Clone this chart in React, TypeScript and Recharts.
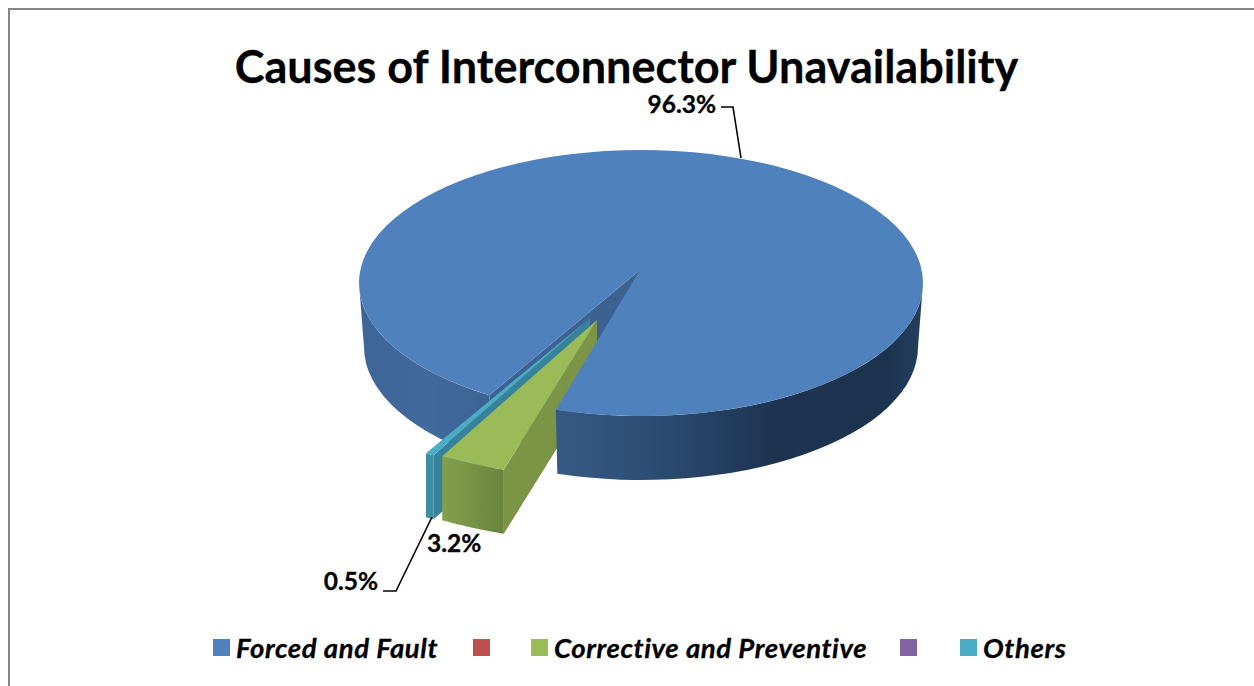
import React from "react";
import { PieChart, Pie, Legend } from "recharts";

const categories = ["Forced and Fault", " ", "Corrective and Preventive", "  ", "Others"];
const shares = [96.3, 0, 3.2, 0, 0.5];
const labels = ["96.3%", "", "3.2%", "", "0.5%"];
const colors = ["#4f81bd", "#c0504d", "#9bbb59", "#8064a2", "#4bacc6"];

const data = categories.map((name, i) => ({ name, value: shares[i], fill: colors[i] }));

// fake 3D settings
const TILT = 133 / 282;
const DEPTH = 64;
const BASE_SCALE = 277 / 282;

// how far each slice is pulled out of the pie (perspective makes apex and rim move differently)
const explode = [
  { ax: -1, ay: -13, rx: 0, ry: 0, scale: 1, trim: 1.6, depthScale: BASE_SCALE },
  { ax: 0, ay: 0, rx: 0, ry: 0, scale: 1, trim: 0, depthScale: 1 },
  { ax: -44, ay: 37, rx: -26, ry: 36, scale: 1.2, trim: 0, depthScale: 1 },
  { ax: 0, ay: 0, rx: 0, ry: 0, scale: 1, trim: 0, depthScale: 1 },
  { ax: -51, ay: 35, rx: -63.5, ry: 58, scale: 1, trim: 0, depthScale: 1 },
];
const cutColors = ["#3c6291", "#000", "#7b9446", "#000", "#38819a"];

const labelSpots = [
  { x: 716, y: 113, anchor: "end", line: "721,107 733,107 741,158" },
  null,
  { x: 427, y: 552, anchor: "start", line: "" },
  null,
  { x: 378, y: 590, anchor: "end", line: "383,591 396,591 432,517" },
];

const legendStarts = [213, 473, 531, 900, 960];

const rad = (a: number) => (a * Math.PI) / 180;

function geometry(props: any) {
  const i = props.index ?? categories.indexOf(props.payload?.name ?? props.name);
  const e = explode[i];
  const R = props.outerRadius * e.scale;
  const r = R * TILT;
  const cx = props.cx + e.rx;
  const cy = props.cy + e.ry;
  const top = (a: number) => [cx + R * Math.cos(rad(a)), cy - r * Math.sin(rad(a))];
  const low = (a: number) => [
    cx + R * e.depthScale * Math.cos(rad(a)),
    cy + DEPTH - r * Math.sin(rad(a)),
  ];
  return {
    i,
    e,
    R,
    r,
    top,
    low,
    apex: [props.cx + e.ax, props.cy + e.ay],
    start: props.startAngle,
    end: props.endAngle + e.trim,
  };
}

// wall between the top rim and the base rim, a1 < a2 (math angles)
function wallPath(g: any, a1: number, a2: number) {
  const p1 = g.top(a1);
  const p2 = g.top(a2);
  const q1 = g.low(a1);
  const q2 = g.low(a2);
  const R2 = g.R * g.e.depthScale;
  return `M${p1[0]},${p1[1]} A${g.R},${g.r} 0 0 0 ${p2[0]},${p2[1]} L${q2[0]},${q2[1]} A${R2},${g.r} 0 0 1 ${q1[0]},${q1[1]} Z`;
}

function cutPath(g: any) {
  const s = g.top(g.start);
  const d = g.i === 0 ? g.low(g.start) : [s[0], s[1] + DEPTH];
  return `M${g.apex[0]},${g.apex[1]} L${s[0]},${s[1]} L${d[0]},${d[1]} L${g.apex[0]},${g.apex[1] + DEPTH} Z`;
}

// blue cut and left wall, plus the teal walls: everything behind the green slice
function BackWalls(props: any) {
  if (!props.value) return <g />;
  const g = geometry(props);
  if (g.i === 0) {
    return (
      <g>
        <path d={cutPath(g)} fill={cutColors[0]} />
        <path d={wallPath(g, 180, g.start)} fill="url(#wallLeft)" />
      </g>
    );
  }
  if (g.i === 4) {
    return (
      <g>
        <path d={wallPath(g, g.end, g.start)} fill="#3e8ea3" />
        <path d={cutPath(g)} fill={cutColors[4]} />
      </g>
    );
  }
  return <g />;
}

function GreenWalls(props: any) {
  if (!props.value) return <g />;
  const g = geometry(props);
  if (g.i !== 2) return <g />;
  return (
    <g>
      <path d={wallPath(g, g.end, g.start)} fill="url(#wallGreen)" />
      <path d={cutPath(g)} fill={cutColors[2]} />
    </g>
  );
}

function TopShape(props: any) {
  if (!props.value) return <g />;
  const g = geometry(props);
  const s = g.top(g.start);
  const t = g.top(g.end);
  const large = Math.abs(g.start - g.end) > 180 ? 1 : 0;
  return (
    <g>
      {g.i === 0 && <path d={wallPath(g, g.end + 360, 360)} fill="url(#wallRight)" />}
      <path
        d={`M${g.apex[0]},${g.apex[1]} L${s[0]},${s[1]} A${g.R},${g.r} 0 ${large} 1 ${t[0]},${t[1]} Z`}
        fill={props.fill}
      />
    </g>
  );
}

function renderLabel(props: any) {
  const i = props.index ?? 0;
  const spot = labelSpots[i];
  if (!spot) return <g />;
  return (
    <g>
      {spot.line && <polyline points={spot.line} fill="none" stroke="#000" strokeWidth={1.6} />}
      <text
        x={spot.x}
        y={spot.y}
        textAnchor={spot.anchor}
        fontFamily="Lato"
        fontWeight={700}
        fontSize={24.5}
        fill="#000"
        stroke="#000"
        strokeWidth={0.3}
      >
        {labels[i]}
      </text>
    </g>
  );
}

function renderLegend(props: any) {
  // the three stacked pies each add their slices to the payload, only the first set is wanted
  const items = (props.payload ?? []).slice(0, categories.length);
  return (
    <div style={{ position: "relative", width: 1254, height: 40 }}>
      {items.map((item: any, i: number) => (
        <div key={i} style={{ position: "absolute", left: legendStarts[i], top: 0, display: "flex", alignItems: "center", height: 40 }}>
          <span style={{ width: 17, height: 17, background: item.color, display: "inline-block" }} />
          <span style={{ marginLeft: 6, fontFamily: "Lato", fontWeight: 700, fontStyle: "italic", fontSize: 27.5, letterSpacing: 0.6, color: "#000", whiteSpace: "pre", WebkitTextStroke: "0.3px #000" }}>
            {String(item.value).trim()}
          </span>
        </div>
      ))}
    </div>
  );
}

const pieProps = {
  data,
  dataKey: "value",
  nameKey: "name",
  cx: 641,
  cy: 283,
  innerRadius: 0,
  outerRadius: 282,
  startAngle: 237.5,
  endAngle: -122.5,
  stroke: "none",
  isAnimationActive: false,
};

export default function App() {
  return (
    <div style={{ position: "absolute", left: 0, top: 0, width: 1254, height: 686, overflow: "hidden", background: "#fff" }}>
      <div style={{ position: "absolute", left: 8, top: 8, right: -4, bottom: -4, borderLeft: "2.5px solid #868686", borderTop: "2.5px solid #868686" }} />
      <PieChart width={1254} height={686} margin={{ top: 0, right: 0, bottom: 0, left: 0 }} style={{ position: "absolute", left: 0, top: 0 }}>
        <defs>
          <linearGradient id="wallLeft" x1="0" y1="0" x2="1" y2="0">
            <stop offset="0" stopColor="#3d6596" />
            <stop offset="0.5" stopColor="#416a9d" />
            <stop offset="1" stopColor="#3c6392" />
          </linearGradient>
          <linearGradient id="wallRight" x1="0" y1="0" x2="1" y2="0">
            <stop offset="0" stopColor="#365a85" />
            <stop offset="0.3" stopColor="#2b4a70" />
            <stop offset="0.6" stopColor="#1d3350" />
            <stop offset="0.9" stopColor="#1c3350" />
            <stop offset="1" stopColor="#24405f" />
          </linearGradient>
          <linearGradient id="wallGreen" x1="0" y1="0" x2="1" y2="0">
            <stop offset="0" stopColor="#83a04d" />
            <stop offset="1" stopColor="#6a843d" />
          </linearGradient>
        </defs>
        <text x={626.5} y={83} textAnchor="middle" fontFamily="Lato" fontWeight={700} fontSize={45} fill="#000" stroke="#000" strokeWidth={0.3}>
          Causes of Interconnector Unavailability
        </text>
        <Pie {...pieProps} shape={BackWalls} />
        <Pie {...pieProps} shape={GreenWalls} legendType="none" />
        <Pie {...pieProps} shape={TopShape} label={renderLabel} labelLine={false} legendType="none" />
        <Legend content={renderLegend} itemSorter={null} wrapperStyle={{ left: 0, top: 627, bottom: "auto", width: 1254 }} />
      </PieChart>
    </div>
  );
}
